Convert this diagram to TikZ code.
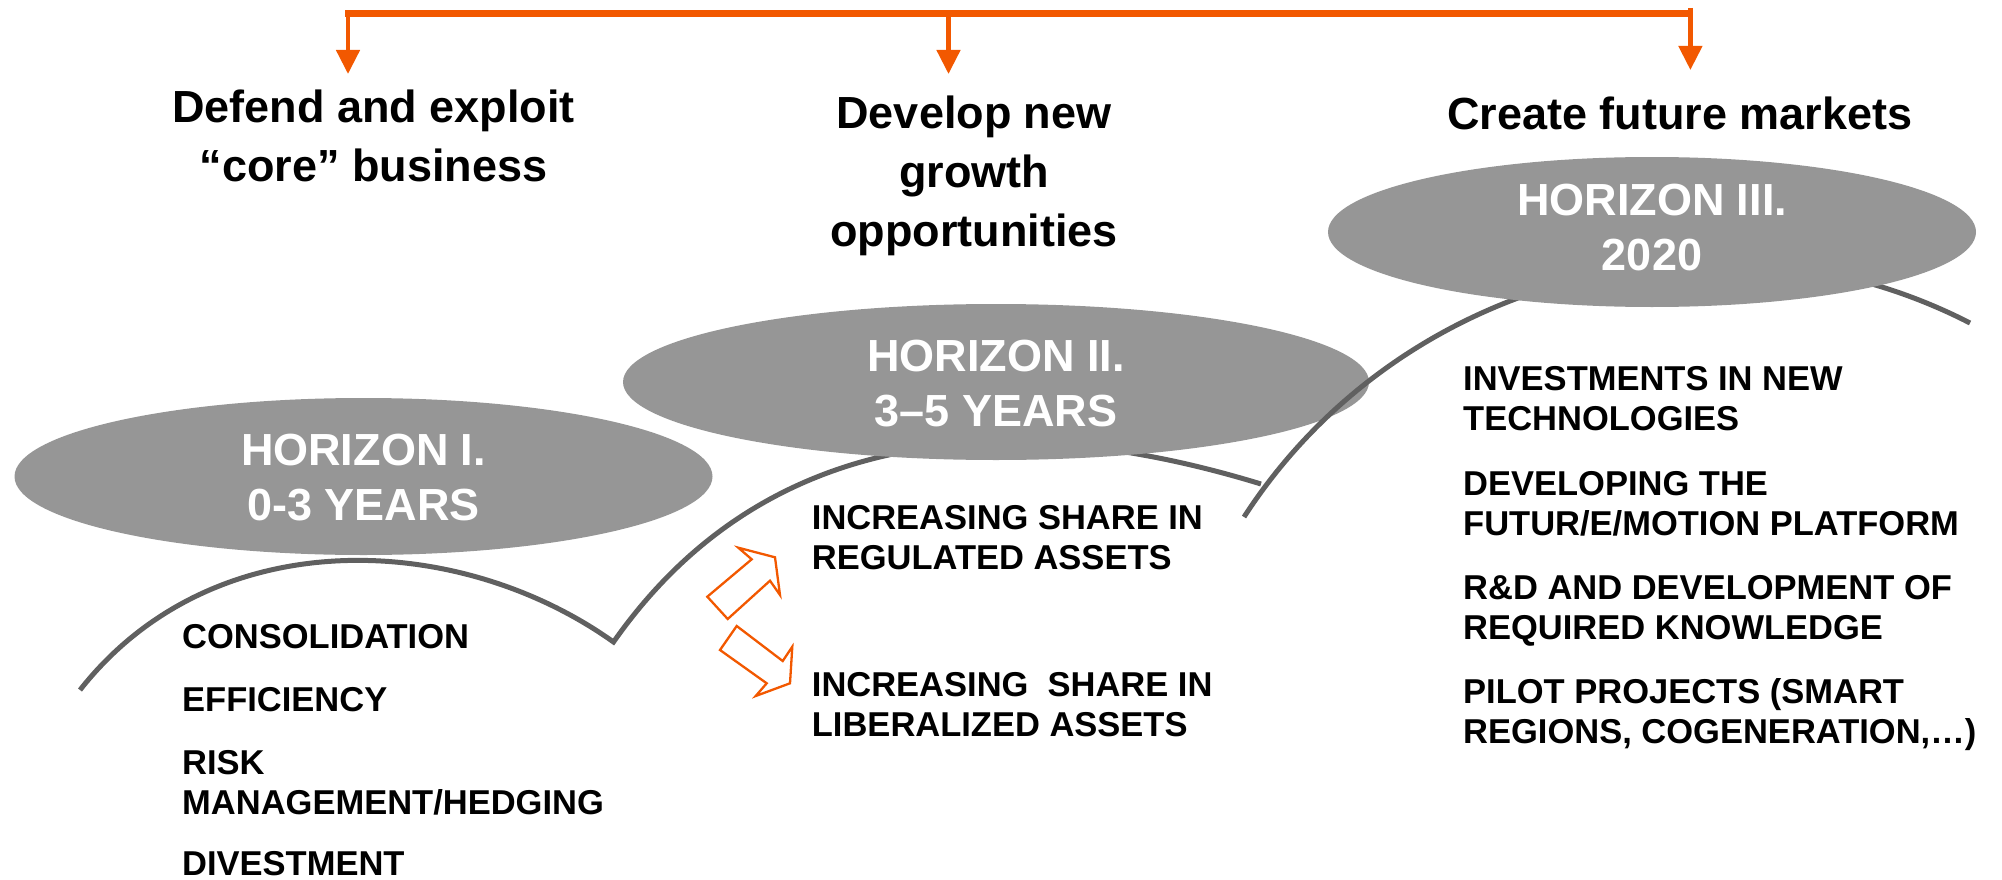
\documentclass[tikz,border=0pt]{standalone}
\usepackage{fontspec}
\setmainfont{Liberation Sans}
\usetikzlibrary{arrows.meta,shapes.geometric}
\definecolor{accent}{RGB}{242,88,0}
\definecolor{horizonfill}{RGB}{150,150,150}
\definecolor{pathgray}{RGB}{96,96,96}
\begin{document}
\begin{tikzpicture}[x=1pt,y=-1pt,
  headline/.style={anchor=base, inner sep=0pt, font=\fontsize{45}{55}\selectfont\bfseries},
  horizon/.style={ellipse, fill=horizonfill, draw=none, inner sep=0pt},
  horizontext/.style={align=center, inner sep=0pt, text=white, font=\fontsize{45}{55}\selectfont\bfseries},
  itemline/.style={anchor=base west, inner sep=0pt, font=\fontsize{34.5}{40}\selectfont\bfseries},
  growth/.style={draw=pathgray, line width=5pt, line join=miter},
  feed/.style={draw=accent, line width=4.6pt, -{Triangle[width=23pt,length=24pt]}},
  hollow/.style={draw=accent, line width=2.3pt, fill=white, line join=miter},
]
\useasboundingbox (0,0) rectangle (2002,880);

% --- orange distribution bracket ---
\coordinate (barL) at (345,13.5);
\coordinate (barR) at (1693,13.5);
\draw[accent, line width=7pt] (barL) -- (barR);
\coordinate (s1) at (348,13);   \coordinate (t1) at (348,74);
\coordinate (s2) at (948.5,13); \coordinate (t2) at (948.5,74);
\coordinate (s3) at (1690.4,8); \coordinate (t3) at (1690.4,70);
\draw[feed] (s1) -- (t1);
\draw[feed] (s2) -- (t2);
\draw[feed] (s3) -- (t3);

% --- headings ---
\node[headline] (hd1a) at (373.5,123) {Defend and exploit};
\node[headline] (hd1b) at (373.5,181.5) {“core” business};
\node[headline] (hd2a) at (974,129) {Develop new};
\node[headline] (hd2b) at (974,187.5) {growth};
\node[headline] (hd2c) at (974,246) {opportunities};
\node[headline] (hd3a) at (1680,130) {Create future markets};

% --- growth curves (first two, lying under the horizon ellipses) ---
\coordinate (g0) at (80,690);
\coordinate (g1) at (613.5,642);
\coordinate (g2) at (1261,484);
\draw[growth] (g0) .. controls (213.6,520) and (458.6,531.5) .. (g1)
              .. controls (782.3,401.2) and (1052.4,420) .. (g2);

% --- horizons I and II ---
\node[horizon, minimum width=698pt, minimum height=157pt] (h1) at (363.5,476.5) {};
\node[horizontext] (h1t) at (363.5,477.5) {HORIZON I.\\0-3 YEARS};
\node[horizon, minimum width=746pt, minimum height=156pt] (h2) at (996,382) {};
\node[horizontext] (h2t) at (996,383.5) {HORIZON II.\\3–5 YEARS};

% --- third growth curve, over horizon II and under horizon III ---
\coordinate (g3) at (1244,517);
\coordinate (g4) at (1970,323);
\draw[growth] (g3) .. controls (1398.8,277.6) and (1716.6,192.8) .. (g4);

\node[horizon, minimum width=648pt, minimum height=150pt] (h3) at (1652,232) {};
\node[horizontext] (h3t) at (1652,227.5) {HORIZON III.\\2020};

% --- hollow block arrows ---
\draw[hollow] (707.3,596.7) -- (751.7,559.3) -- (738.3,547.7) -- (775,557.3)
  -- (780,595) -- (770,580.7) -- (727.7,619) -- cycle;
\draw[hollow] (736.7,626) -- (782.7,661) -- (792.3,646.7) -- (790,683.3)
  -- (755.7,696) -- (766.7,683.3) -- (720,650) -- cycle;

% --- horizon I items ---
\node[itemline] (a1) at (182,648) {CONSOLIDATION};
\node[itemline] (a2) at (182,711) {EFFICIENCY};
\node[itemline] (a3) at (182,774) {RISK};
\node[itemline] (a4) at (182,814) {MANAGEMENT/HEDGING};
\node[itemline] (a5) at (182,875) {DIVESTMENT};

% --- horizon II items ---
\node[itemline] (b1) at (811.7,529) {INCREASING SHARE IN};
\node[itemline] (b2) at (811.7,569) {REGULATED ASSETS};
\node[itemline] (b3) at (811.7,696) {INCREASING\ \ SHARE IN};
\node[itemline] (b4) at (811.7,736) {LIBERALIZED ASSETS};

% --- horizon III items ---
\node[itemline] (c1) at (1463,390) {INVESTMENTS IN NEW};
\node[itemline] (c2) at (1463,430) {TECHNOLOGIES};
\node[itemline] (c3) at (1463,495) {DEVELOPING THE};
\node[itemline] (c4) at (1463,535) {FUTUR/E/MOTION PLATFORM};
\node[itemline] (c5) at (1463,599) {R\&D AND DEVELOPMENT OF};
\node[itemline] (c6) at (1463,639) {REQUIRED KNOWLEDGE};
\node[itemline] (c7) at (1463,703) {PILOT PROJECTS (SMART};
\node[itemline] (c8) at (1463,743) {REGIONS, COGENERATION,…)};
\end{tikzpicture}
\end{document}
